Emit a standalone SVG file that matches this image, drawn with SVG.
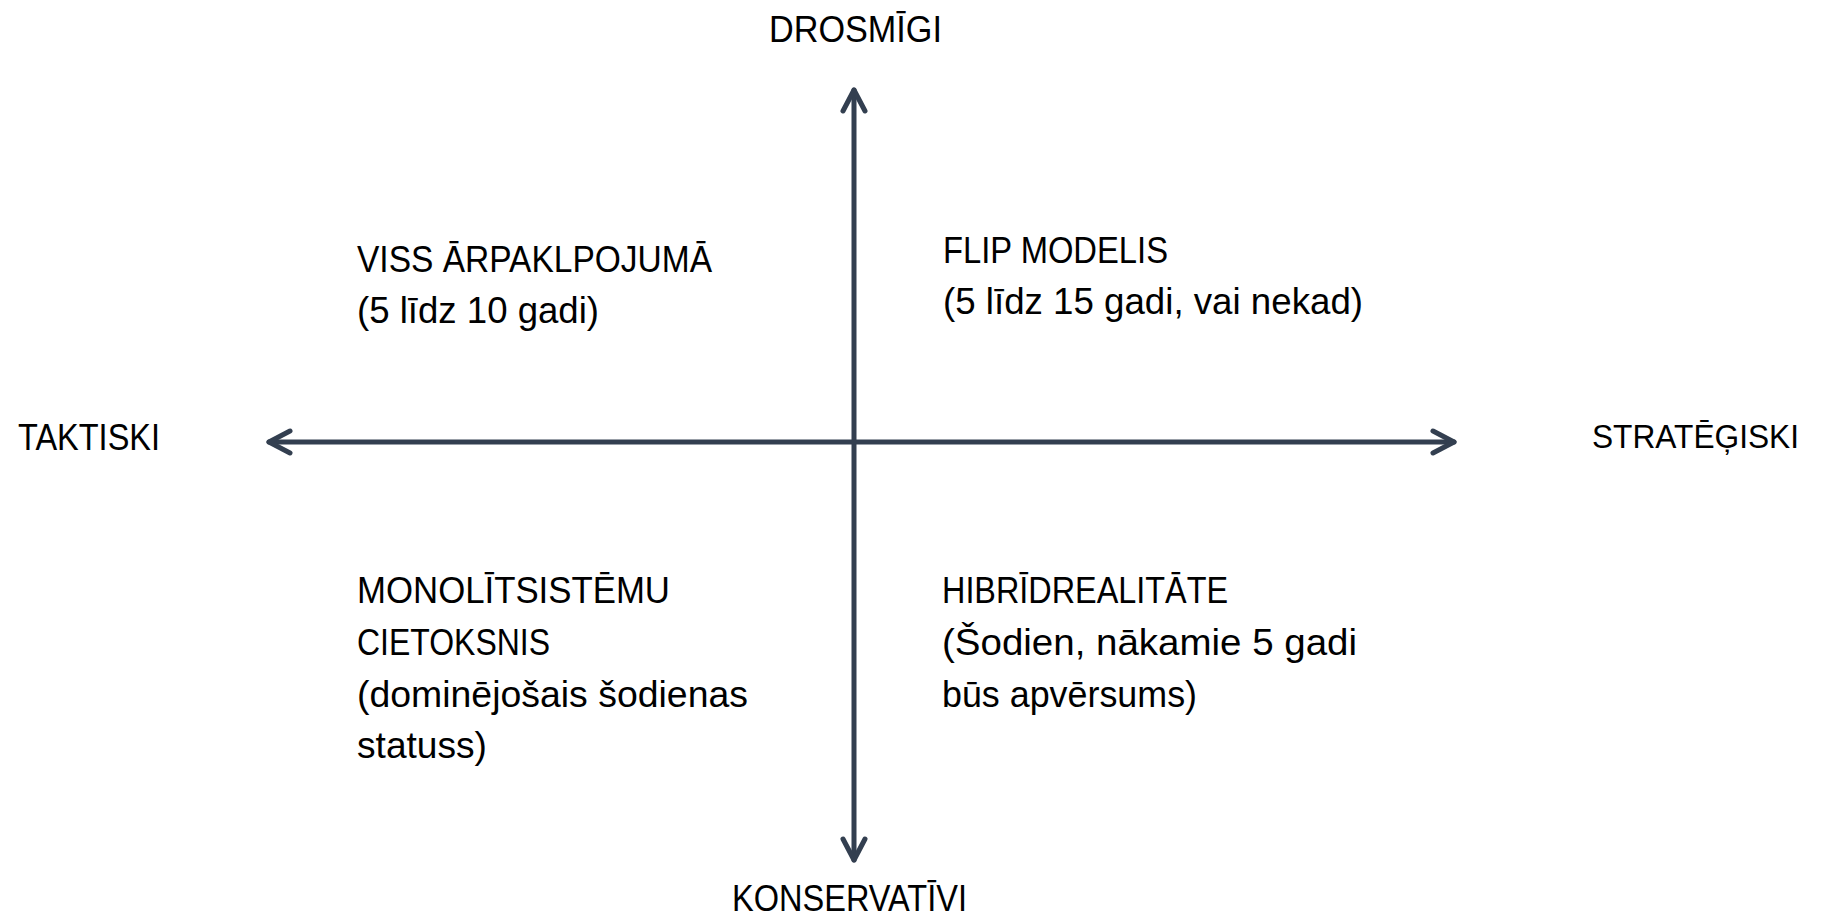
<svg xmlns="http://www.w3.org/2000/svg" width="1823" height="918" viewBox="0 0 1823 918">
<style>
.t{font-family:"Liberation Sans",Arial,sans-serif;font-size:36px;fill:#000}
.ax{stroke:#333f50;stroke-width:5;fill:none;stroke-linecap:round}
</style>
<defs>
<marker id="ah" markerUnits="userSpaceOnUse" markerWidth="40" markerHeight="40" viewBox="-30 -20 40 40" refX="0" refY="0" orient="auto-start-reverse">
<path d="M-21,-11 L0,0 L-21,11" fill="none" stroke="#333f50" stroke-width="5" stroke-linecap="round" stroke-linejoin="round"/>
</marker>
</defs>
<rect width="1823" height="918" fill="#fff"/>
<g id="connectors">
<line class="ax" x1="854" y1="90" x2="854" y2="860" marker-start="url(#ah)" marker-end="url(#ah)"/>
<line class="ax" x1="269" y1="442" x2="1454" y2="442" marker-start="url(#ah)" marker-end="url(#ah)"/>
</g>
<g id="label-top"><text class="t" x="769" y="42" textLength="173" lengthAdjust="spacingAndGlyphs">DROSMĪGI</text></g>
<g id="label-bottom"><text class="t" x="732" y="911" textLength="235" lengthAdjust="spacingAndGlyphs">KONSERVATĪVI</text></g>
<g id="label-left"><text class="t" x="18" y="450" textLength="142" lengthAdjust="spacingAndGlyphs">TAKTISKI</text></g>
<g id="label-right"><text class="t" x="1592" y="448" style="font-size:34px" textLength="207" lengthAdjust="spacingAndGlyphs">STRATĒĢISKI</text></g>
<g id="q-top-left">
<text class="t" x="357" y="272" textLength="355" lengthAdjust="spacingAndGlyphs">VISS ĀRPAKLPOJUMĀ</text>
<text class="t" x="357" y="323" textLength="242" lengthAdjust="spacingAndGlyphs">(5 līdz 10 gadi)</text>
</g>
<g id="q-top-right">
<text class="t" x="943" y="263" textLength="225" lengthAdjust="spacingAndGlyphs">FLIP MODELIS</text>
<text class="t" x="943" y="314" textLength="420" lengthAdjust="spacingAndGlyphs">(5 līdz 15 gadi, vai nekad)</text>
</g>
<g id="q-bottom-left">
<text class="t" x="357" y="603" textLength="313" lengthAdjust="spacingAndGlyphs">MONOLĪTSISTĒMU</text>
<text class="t" x="357" y="655" textLength="193" lengthAdjust="spacingAndGlyphs">CIETOKSNIS</text>
<text class="t" x="357" y="707" textLength="391" lengthAdjust="spacingAndGlyphs">(dominējošais šodienas</text>
<text class="t" x="357" y="758" textLength="130" lengthAdjust="spacingAndGlyphs">statuss)</text>
</g>
<g id="q-bottom-right">
<text class="t" x="942" y="603" textLength="286" lengthAdjust="spacingAndGlyphs">HIBRĪDREALITĀTE</text>
<text class="t" x="942" y="655" textLength="415" lengthAdjust="spacingAndGlyphs">(Šodien, nākamie 5 gadi</text>
<text class="t" x="942" y="707" textLength="255" lengthAdjust="spacingAndGlyphs">būs apvērsums)</text>
</g>
</svg>
